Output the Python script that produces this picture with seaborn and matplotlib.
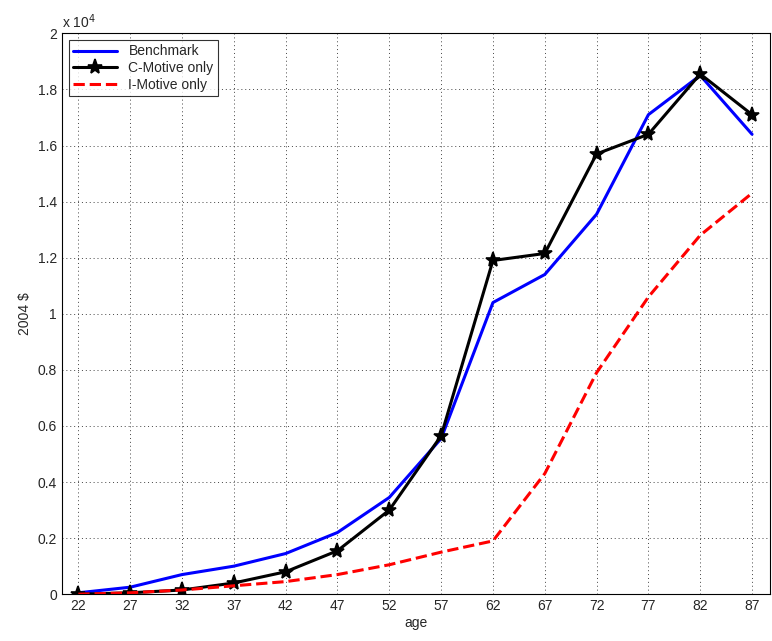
import matplotlib
matplotlib.use("Agg")
import matplotlib.pyplot as plt
import seaborn as sns
import pandas as pd

ages = [22, 27, 32, 37, 42, 47, 52, 57, 62, 67, 72, 77, 82, 87]
benchmark = [0.005, 0.025, 0.07, 0.10, 0.145, 0.22, 0.345, 0.555, 1.04, 1.14, 1.355, 1.71, 1.85, 1.64]
c_motive = [0.0, 0.005, 0.015, 0.04, 0.08, 0.155, 0.30, 0.565, 1.19, 1.215, 1.57, 1.64, 1.855, 1.71]
i_motive = [0.0, 0.005, 0.015, 0.03, 0.045, 0.07, 0.105, 0.15, 0.19, 0.43, 0.79, 1.06, 1.28, 1.43]
yticks = [0, 0.2, 0.4, 0.6, 0.8, 1, 1.2, 1.4, 1.6, 1.8, 2]

sns.set_style("white")
plt.rcParams["font.family"] = ["Liberation Sans", "DejaVu Sans"]

df = pd.DataFrame({"age": ages, "Benchmark": benchmark,
                   "C-Motive only": c_motive, "I-Motive only": i_motive})

fig = plt.figure(figsize=(7.72, 6.41), dpi=100)
ax = fig.add_axes([0.080, 0.073, 0.917, 0.875])
sns.lineplot(data=df, x="age", y="Benchmark", ax=ax, color="#0000ff", lw=2.2, label="Benchmark")
sns.lineplot(data=df, x="age", y="C-Motive only", ax=ax, color="black", lw=2.2,
             marker="*", markersize=11, markeredgewidth=1.2, markeredgecolor="black",
             markerfacecolor="black", label="C-Motive only")
sns.lineplot(data=df, x="age", y="I-Motive only", ax=ax, color="#ff0000", lw=2.2,
             linestyle="--", label="I-Motive only")

ax.set_xlim(20.4, 88.7)
ax.set_ylim(0, 2)
ax.set_xticks(ages)
ax.set_yticks(yticks)
ax.set_yticklabels([f"{v:g}" for v in yticks])
ax.tick_params(labelsize=10, direction="in", length=4)
ax.grid(True, linestyle=(0, (1, 3)), color="#444444", lw=0.7)
for s in ax.spines.values():
    s.set_color("black")
    s.set_linewidth(0.8)
ax.set_xlabel("age", fontsize=10, labelpad=2)
ax.set_ylabel("2004 $", fontsize=10)
ax.text(0.0, 1.005, r"x 10$^4$", transform=ax.transAxes, fontsize=10, va="bottom")
leg = ax.legend(loc="upper left", fontsize=10, frameon=True, fancybox=False,
                edgecolor="black", borderpad=0.3, labelspacing=0.2, handlelength=3.2)
leg.get_frame().set_linewidth(0.8)
fig.savefig("out.png", dpi=100)
